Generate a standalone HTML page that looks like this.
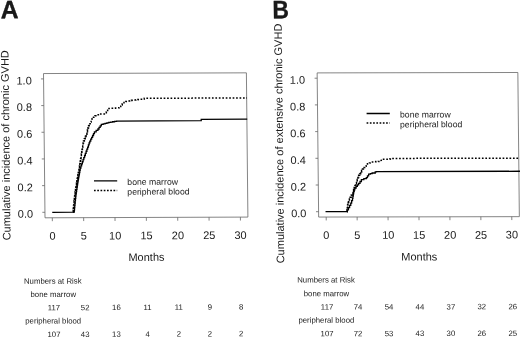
<!DOCTYPE html>
<html lang="en">
<head>
<meta charset="utf-8">
<title>Cumulative incidence of chronic GVHD</title>
<style>
html,body{margin:0;padding:0;background:#fff;}
body{width:520px;height:338px;overflow:hidden;}
svg{display:block;font-family:'Liberation Sans', sans-serif;filter:blur(0.25px);}
text{fill:#1a1a1a;}
</style>
</head>
<body>
<svg width="520" height="338" viewBox="0 0 520 338">
<rect width="520" height="338" fill="#fff"/>
<g id="panelA" transform="matrix(1,-0.0035,0.0104,1,-1.5080,0.5075)">
<text transform="translate(2.02,17.79) scale(1.03,1.05)" font-size="24" font-weight="bold" stroke="#000" stroke-width="0.3">A</text>
<rect x="44.25" y="73.2" width="202.90" height="144.25" fill="none" stroke="#666" stroke-width="0.8"/>
<line x1="51.55" y1="217.45" x2="51.55" y2="220.85" stroke="#666" stroke-width="0.8"/>
<text x="51.55" y="239.3" font-size="11" text-anchor="middle">0</text>
<line x1="82.90" y1="217.45" x2="82.90" y2="220.85" stroke="#666" stroke-width="0.8"/>
<text x="82.90" y="239.3" font-size="11" text-anchor="middle">5</text>
<line x1="114.25" y1="217.45" x2="114.25" y2="220.85" stroke="#666" stroke-width="0.8"/>
<text x="114.25" y="239.3" font-size="11" text-anchor="middle">10</text>
<line x1="145.60" y1="217.45" x2="145.60" y2="220.85" stroke="#666" stroke-width="0.8"/>
<text x="145.60" y="239.3" font-size="11" text-anchor="middle">15</text>
<line x1="176.95" y1="217.45" x2="176.95" y2="220.85" stroke="#666" stroke-width="0.8"/>
<text x="176.95" y="239.3" font-size="11" text-anchor="middle">20</text>
<line x1="208.30" y1="217.45" x2="208.30" y2="220.85" stroke="#666" stroke-width="0.8"/>
<text x="208.30" y="239.3" font-size="11" text-anchor="middle">25</text>
<line x1="239.65" y1="217.45" x2="239.65" y2="220.85" stroke="#666" stroke-width="0.8"/>
<text x="239.65" y="239.3" font-size="11" text-anchor="middle">30</text>
<line x1="41.65" y1="211.95" x2="44.25" y2="211.95" stroke="#666" stroke-width="0.8"/>
<text x="32.4" y="217.40" font-size="11" text-anchor="end">0.0</text>
<line x1="41.65" y1="185.27" x2="44.25" y2="185.27" stroke="#666" stroke-width="0.8"/>
<text x="32.4" y="190.72" font-size="11" text-anchor="end">0.2</text>
<line x1="41.65" y1="158.59" x2="44.25" y2="158.59" stroke="#666" stroke-width="0.8"/>
<text x="32.4" y="164.04" font-size="11" text-anchor="end">0.4</text>
<line x1="41.65" y1="131.91" x2="44.25" y2="131.91" stroke="#666" stroke-width="0.8"/>
<text x="32.4" y="137.36" font-size="11" text-anchor="end">0.6</text>
<line x1="41.65" y1="105.23" x2="44.25" y2="105.23" stroke="#666" stroke-width="0.8"/>
<text x="32.4" y="110.68" font-size="11" text-anchor="end">0.8</text>
<line x1="41.65" y1="78.55" x2="44.25" y2="78.55" stroke="#666" stroke-width="0.8"/>
<text x="32.4" y="84.00" font-size="11" text-anchor="end">1.0</text>
<text transform="translate(9.50,144.83) rotate(-90)" font-size="11" text-anchor="middle">Cumulative incidence of chronic GVHD</text>
<text x="145.29" y="260.91" font-size="11" text-anchor="middle">Months</text>
<path d="M51.55,211.95 L73.12,211.95 L73.62,211.95 L73.62,209.68 L73.87,209.68 L73.87,207.37 L74.12,207.37 L74.12,205.06 L74.37,205.06 L74.37,202.75 L74.64,202.75 L74.64,200.48 L74.91,200.48 L74.91,198.21 L75.17,198.21 L75.17,195.94 L75.44,195.94 L75.44,193.67 L75.80,193.67 L75.80,191.44 L76.16,191.44 L76.16,189.21 L76.52,189.21 L76.52,186.97 L76.88,186.97 L76.88,184.74 L77.23,184.74 L77.23,182.74 L77.57,182.74 L77.57,180.73 L77.92,180.73 L77.92,178.73 L78.26,178.73 L78.26,176.73 L78.68,176.73 L78.68,174.50 L79.11,174.50 L79.11,172.26 L79.53,172.26 L79.53,170.03 L79.95,170.03 L79.95,167.79 L80.69,167.79 L80.69,165.71 L81.43,165.71 L81.43,163.63 L82.17,163.63 L82.17,161.55 L82.91,161.55 L82.91,159.47 L83.65,159.47 L83.65,157.39 L84.45,157.39 L84.45,155.28 L85.24,155.28 L85.24,153.17 L86.03,153.17 L86.03,151.05 L86.83,151.05 L86.83,148.94 L87.62,148.94 L87.62,146.83 L88.42,146.83 L88.42,144.72 L89.14,144.72 L89.14,142.78 L89.86,142.78 L89.86,140.85 L90.80,140.85 L90.80,139.01 L91.74,139.01 L91.74,137.17 L92.68,137.17 L92.68,135.33 L93.62,135.33 L93.62,133.48 L94.56,133.48 L94.56,131.64 L96.32,131.64 L96.32,130.24 L98.07,130.24 L98.07,128.84 L99.22,128.84 L99.22,127.29 L100.37,127.29 L100.37,125.73 L101.52,125.73 L101.52,124.17 L103.40,124.17 L103.40,123.71 L105.28,123.71 L105.28,123.24 L107.16,123.24 L107.16,122.77 L109.05,122.77 L109.05,122.31 L110.97,122.31 L110.97,121.97 L112.90,121.97 L112.90,121.64 L114.83,121.64 L114.83,121.30 L116.76,121.30 L116.76,120.97 L201.03,120.84 L201.47,120.84 L201.47,119.50 L247.49,119.50" fill="none" stroke="#000" stroke-width="1.3" stroke-linejoin="miter"/>
<path d="M72.49,211.95 L72.55,211.95 L72.55,209.95 L72.62,209.95 L72.62,207.95 L72.93,207.95 L72.93,205.35 L73.24,205.35 L73.24,202.75 L73.51,202.75 L73.51,200.48 L73.78,200.48 L73.78,198.21 L74.04,198.21 L74.04,195.94 L74.31,195.94 L74.31,193.67 L74.67,193.67 L74.67,191.44 L75.03,191.44 L75.03,189.21 L75.39,189.21 L75.39,186.97 L75.75,186.97 L75.75,184.74 L76.10,184.74 L76.10,182.74 L76.44,182.74 L76.44,180.73 L76.79,180.73 L76.79,178.73 L77.13,178.73 L77.13,176.73 L77.57,176.73 L77.57,174.50 L78.01,174.50 L78.01,172.26 L78.45,172.26 L78.45,170.03 L78.89,170.03 L78.89,167.79 L79.29,167.79 L79.29,165.47 L79.69,165.47 L79.69,163.15 L80.09,163.15 L80.09,160.83 L80.49,160.83 L80.49,158.51 L80.89,158.51 L80.89,156.19 L81.26,156.19 L81.26,153.89 L81.62,153.89 L81.62,151.60 L81.98,151.60 L81.98,149.31 L82.35,149.31 L82.35,147.01 L82.71,147.01 L82.71,144.72 L83.12,144.72 L83.12,142.78 L83.53,142.78 L83.53,140.85 L84.40,140.85 L84.40,138.55 L85.28,138.55 L85.28,136.25 L86.16,136.25 L86.16,133.94 L87.04,133.94 L87.04,131.64 L87.63,131.64 L87.63,129.64 L88.23,129.64 L88.23,127.64 L88.83,127.64 L88.83,125.64 L89.42,125.64 L89.42,123.64" fill="none" stroke="#000" stroke-width="1.5" stroke-dasharray="2.4 1.0" stroke-linejoin="miter"/>
<path d="M89.42,123.64 L90.40,123.64 L90.40,121.91 L91.39,121.91 L91.39,120.17 L92.37,120.17 L92.37,118.44 L93.84,118.44 L93.84,117.04 L95.31,117.04 L95.31,115.64 L97.60,115.64 L97.60,114.70 L99.89,114.70 L99.89,113.77 L105.35,113.77 L106.68,113.77 L106.68,111.94 L108.02,111.94 L108.02,110.12 L109.36,110.12 L109.36,108.30 L111.54,108.30 L111.54,108.16 L113.72,108.16 L113.72,108.03 L115.90,108.03 L115.90,107.90 L118.07,107.90 L118.07,107.76 L119.62,107.76 L119.62,106.39 L121.17,106.39 L121.17,105.01 L122.71,105.01 L122.71,103.63 L124.44,103.63 L124.44,102.50 L126.16,102.50 L126.16,101.36 L128.11,101.36 L128.11,101.01 L130.05,101.01 L130.05,100.65 L131.99,100.65 L131.99,100.29 L134.11,100.29 L134.11,100.06 L136.23,100.06 L136.23,99.83 L138.34,99.83 L138.34,99.59 L140.46,99.59 L140.46,99.36 L143.66,99.36 L143.66,98.96 L144.78,98.96 L144.78,98.29 L247.49,98.29" fill="none" stroke="#000" stroke-width="1.5" stroke-dasharray="1.7 1.75" stroke-linejoin="miter"/>
<line x1="93.63" y1="180.62" x2="116.83" y2="180.70" stroke="#000" stroke-width="1.3"/>
<line x1="93.53" y1="190.22" x2="116.73" y2="190.30" stroke="#000" stroke-width="1.5" stroke-dasharray="1.7 1.55"/>
<text x="126.89" y="184.84" font-size="8.7" text-anchor="start">bone marrow</text>
<text x="126.78" y="194.64" font-size="8.7" text-anchor="start">peripheral blood</text>
<text x="51.36" y="283.38" font-size="7.8" text-anchor="middle" fill="#222">Numbers at Risk</text>
<text x="51.72" y="296.68" font-size="7.8" text-anchor="middle" fill="#222">bone marrow</text>
<text x="51.34" y="323.18" font-size="7.8" text-anchor="middle" fill="#222">peripheral blood</text>
<text x="52.28" y="309.98" font-size="7.8" text-anchor="middle" fill="#222">117</text>
<text x="83.48" y="309.97" font-size="7.8" text-anchor="middle" fill="#222">52</text>
<text x="114.68" y="309.96" font-size="7.8" text-anchor="middle" fill="#222">16</text>
<text x="145.88" y="309.95" font-size="7.8" text-anchor="middle" fill="#222">11</text>
<text x="177.09" y="309.94" font-size="7.8" text-anchor="middle" fill="#222">11</text>
<text x="208.29" y="309.93" font-size="7.8" text-anchor="middle" fill="#222">9</text>
<text x="239.49" y="309.92" font-size="7.8" text-anchor="middle" fill="#222">8</text>
<text x="52.00" y="336.68" font-size="7.8" text-anchor="middle" fill="#222">107</text>
<text x="83.20" y="336.67" font-size="7.8" text-anchor="middle" fill="#222">43</text>
<text x="114.41" y="336.66" font-size="7.8" text-anchor="middle" fill="#222">13</text>
<text x="145.61" y="336.65" font-size="7.8" text-anchor="middle" fill="#222">4</text>
<text x="176.81" y="336.64" font-size="7.8" text-anchor="middle" fill="#222">2</text>
<text x="208.01" y="336.63" font-size="7.8" text-anchor="middle" fill="#222">2</text>
<text x="239.21" y="336.62" font-size="7.8" text-anchor="middle" fill="#222">2</text>
</g>
<g id="panelB" transform="matrix(1,-0.002,0.0104,1,-1.5080,0.8360)">
<text transform="translate(273.72,18.01) scale(0.95,1.05)" font-size="24" font-weight="bold" stroke="#000" stroke-width="0.3">B</text>
<rect x="317.9" y="72.7" width="200.70" height="144.15" fill="none" stroke="#666" stroke-width="0.8"/>
<line x1="325.45" y1="216.85" x2="325.45" y2="220.25" stroke="#666" stroke-width="0.8"/>
<text x="325.45" y="238.8" font-size="11" text-anchor="middle">0</text>
<line x1="356.38" y1="216.85" x2="356.38" y2="220.25" stroke="#666" stroke-width="0.8"/>
<text x="356.38" y="238.8" font-size="11" text-anchor="middle">5</text>
<line x1="387.31" y1="216.85" x2="387.31" y2="220.25" stroke="#666" stroke-width="0.8"/>
<text x="387.31" y="238.8" font-size="11" text-anchor="middle">10</text>
<line x1="418.24" y1="216.85" x2="418.24" y2="220.25" stroke="#666" stroke-width="0.8"/>
<text x="418.24" y="238.8" font-size="11" text-anchor="middle">15</text>
<line x1="449.17" y1="216.85" x2="449.17" y2="220.25" stroke="#666" stroke-width="0.8"/>
<text x="449.17" y="238.8" font-size="11" text-anchor="middle">20</text>
<line x1="480.10" y1="216.85" x2="480.10" y2="220.25" stroke="#666" stroke-width="0.8"/>
<text x="480.10" y="238.8" font-size="11" text-anchor="middle">25</text>
<line x1="511.03" y1="216.85" x2="511.03" y2="220.25" stroke="#666" stroke-width="0.8"/>
<text x="511.03" y="238.8" font-size="11" text-anchor="middle">30</text>
<line x1="315.29999999999995" y1="211.50" x2="317.9" y2="211.50" stroke="#666" stroke-width="0.8"/>
<text x="305.7" y="217.10" font-size="11" text-anchor="end">0.0</text>
<line x1="315.29999999999995" y1="184.80" x2="317.9" y2="184.80" stroke="#666" stroke-width="0.8"/>
<text x="305.7" y="190.40" font-size="11" text-anchor="end">0.2</text>
<line x1="315.29999999999995" y1="158.10" x2="317.9" y2="158.10" stroke="#666" stroke-width="0.8"/>
<text x="305.7" y="163.70" font-size="11" text-anchor="end">0.4</text>
<line x1="315.29999999999995" y1="131.40" x2="317.9" y2="131.40" stroke="#666" stroke-width="0.8"/>
<text x="305.7" y="137.00" font-size="11" text-anchor="end">0.6</text>
<line x1="315.29999999999995" y1="104.70" x2="317.9" y2="104.70" stroke="#666" stroke-width="0.8"/>
<text x="305.7" y="110.30" font-size="11" text-anchor="end">0.8</text>
<line x1="315.29999999999995" y1="78.00" x2="317.9" y2="78.00" stroke="#666" stroke-width="0.8"/>
<text x="305.7" y="83.60" font-size="11" text-anchor="end">1.0</text>
<text transform="translate(283.02,143.23) rotate(-90)" font-size="11" text-anchor="middle">Cumulative incidence of extensive chronic GVHD</text>
<text x="418.10" y="260.50" font-size="11" text-anchor="middle">Months</text>
<path d="M324.83,211.50 L346.23,211.50 L346.61,211.50 L346.61,209.76 L347.78,209.76 L347.78,207.50 L348.96,207.50 L348.96,205.23 L350.13,205.23 L350.13,202.96 L351.03,202.96 L351.03,200.55 L351.93,200.55 L351.93,198.15 L352.34,198.15 L352.34,195.93 L352.75,195.93 L352.75,193.70 L353.16,193.70 L353.16,191.47 L353.75,191.47 L353.75,189.67 L354.34,189.67 L354.34,187.87 L355.64,187.87 L355.64,186.31 L356.94,186.31 L356.94,184.76 L358.24,184.76 L358.24,183.20 L359.63,183.20 L359.63,181.40 L361.02,181.40 L361.02,179.59 L363.49,179.59 L363.49,178.59 L365.97,178.59 L365.97,177.59 L367.14,177.59 L367.14,175.86 L368.32,175.86 L368.32,174.12 L370.08,174.12 L370.08,173.52 L371.84,173.52 L371.84,172.92 L374.94,172.92 L374.94,171.85 L376.18,171.85 L376.18,171.58 L519.69,171.45" fill="none" stroke="#000" stroke-width="1.3" stroke-linejoin="miter"/>
<path d="M346.23,211.50 L346.45,211.50 L346.45,209.50 L346.67,209.50 L346.67,207.50 L346.98,207.50 L346.98,204.89 L347.29,204.89 L347.29,202.29 L348.07,202.29 L348.07,200.55 L348.85,200.55 L348.85,198.82 L349.64,198.82 L349.64,197.08 L350.61,197.08 L350.61,195.17 L351.58,195.17 L351.58,193.25 L352.54,193.25 L352.54,191.34 L353.16,191.34 L353.16,189.34 L353.78,189.34 L353.78,187.34 L354.57,187.34 L354.57,185.38 L355.35,185.38 L355.35,183.42 L356.13,183.42 L356.13,181.46 L356.87,181.46 L356.87,179.37 L357.62,179.37 L357.62,177.28 L358.36,177.28 L358.36,175.19 L359.35,175.19 L359.35,173.59 L360.34,173.59 L360.34,171.98 L361.33,171.98 L361.33,170.38 L362.26,170.38 L362.26,168.91 L363.18,168.91 L363.18,167.44" fill="none" stroke="#000" stroke-width="1.5" stroke-dasharray="2.4 1.0" stroke-linejoin="miter"/>
<path d="M363.18,167.44 L364.55,167.44 L364.55,166.20 L365.91,166.20 L365.91,164.95 L367.27,164.95 L367.27,163.71 L369.25,163.71 L369.25,162.84 L371.23,162.84 L371.23,161.97 L373.49,161.97 L373.49,161.75 L375.76,161.75 L375.76,161.53 L378.03,161.53 L378.03,161.30 L380.07,161.30 L380.07,160.30 L382.11,160.30 L382.11,159.30 L389.60,159.30 L389.60,159.03 L391.33,159.03 L391.33,158.37 L519.69,158.37" fill="none" stroke="#000" stroke-width="1.5" stroke-dasharray="1.7 1.75" stroke-linejoin="miter"/>
<line x1="366.93" y1="113.40" x2="390.13" y2="113.44" stroke="#000" stroke-width="1.3"/>
<line x1="366.83" y1="123.00" x2="390.03" y2="123.04" stroke="#000" stroke-width="1.5" stroke-dasharray="1.7 1.55"/>
<text x="400.28" y="117.56" font-size="8.7" text-anchor="start">bone marrow</text>
<text x="400.18" y="127.36" font-size="8.7" text-anchor="start">peripheral blood</text>
<text x="324.57" y="282.37" font-size="7.8" text-anchor="middle" fill="#222">Numbers at Risk</text>
<text x="324.93" y="296.07" font-size="7.8" text-anchor="middle" fill="#222">bone marrow</text>
<text x="324.55" y="322.57" font-size="7.8" text-anchor="middle" fill="#222">peripheral blood</text>
<text x="325.39" y="309.37" font-size="7.8" text-anchor="middle" fill="#222">117</text>
<text x="356.34" y="309.39" font-size="7.8" text-anchor="middle" fill="#222">74</text>
<text x="387.29" y="309.41" font-size="7.8" text-anchor="middle" fill="#222">54</text>
<text x="418.24" y="309.43" font-size="7.8" text-anchor="middle" fill="#222">44</text>
<text x="449.19" y="309.46" font-size="7.8" text-anchor="middle" fill="#222">37</text>
<text x="480.14" y="309.48" font-size="7.8" text-anchor="middle" fill="#222">32</text>
<text x="511.09" y="309.50" font-size="7.8" text-anchor="middle" fill="#222">26</text>
<text x="325.11" y="336.07" font-size="7.8" text-anchor="middle" fill="#222">107</text>
<text x="356.06" y="336.09" font-size="7.8" text-anchor="middle" fill="#222">72</text>
<text x="387.01" y="336.11" font-size="7.8" text-anchor="middle" fill="#222">53</text>
<text x="417.96" y="336.13" font-size="7.8" text-anchor="middle" fill="#222">43</text>
<text x="448.91" y="336.16" font-size="7.8" text-anchor="middle" fill="#222">30</text>
<text x="479.86" y="336.18" font-size="7.8" text-anchor="middle" fill="#222">26</text>
<text x="510.81" y="336.20" font-size="7.8" text-anchor="middle" fill="#222">25</text>
</g>
</svg>
</body>
</html>
